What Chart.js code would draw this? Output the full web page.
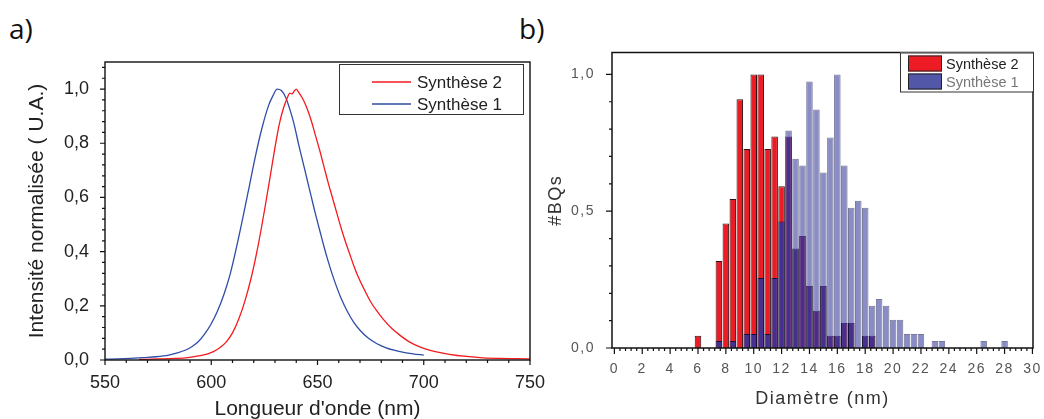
<!DOCTYPE html>
<html>
<head>
<meta charset="utf-8">
<script src="https://cdn.jsdelivr.net/npm/chart.js@4.4.0/dist/chart.umd.min.js"></script>
<style>
    html, body { margin: 0; padding: 0; background: #fff; overflow: hidden; width: 1044px; height: 419px; }
    .tag { position: absolute; font-family: "Open Sans", sans-serif; font-size: 28px; line-height: 28px; color: #111; }
    #tagA { left: 9px; top: 14px; }
    #tagB { left: 519px; top: 14px; }
    #specCanvas { position: absolute; left: 0; top: 0; }
    #histCanvas { position: absolute; left: 540px; top: 0; }
</style>
</head>
<body>
<div class="tag" id="tagA">a)</div>
<div class="tag" id="tagB">b)</div>
<canvas id="specCanvas" width="560" height="425"></canvas>
<canvas id="histCanvas" width="504" height="425"></canvas>

<script>
// ---- a) emission spectra ----
const waveS1 = [550, 556, 562, 568, 574, 580, 584, 588, 591, 594, 597, 600, 603, 606, 609, 612, 615, 618, 621, 624,
    627, 629, 631, 633, 635, 637, 639, 641, 643, 645, 647, 649, 651, 653, 655, 657, 659, 661, 664, 667,
    670, 674, 678, 682, 686, 690, 695, 700];
const intS1 = [0.003, 0.004, 0.006, 0.009, 0.012, 0.018, 0.026, 0.037, 0.05, 0.068, 0.097, 0.134, 0.182, 0.243, 0.32, 0.42, 0.53, 0.645, 0.76, 0.86,
    0.94, 0.975, 1.0, 0.995, 0.97, 0.925, 0.87, 0.8, 0.735, 0.67, 0.605, 0.54, 0.48, 0.42, 0.365, 0.315, 0.27, 0.23, 0.18, 0.14,
    0.11, 0.08, 0.06, 0.046, 0.036, 0.029, 0.023, 0.018];

const waveS2 = [566, 575, 583, 589, 594, 598, 601, 604, 607, 610, 613, 616, 619, 622, 625, 628, 630, 632, 634, 636,
    637, 638, 639, 640, 641, 643, 645, 647, 649, 651, 653, 655, 657, 659, 661, 663, 665, 667, 669, 672,
    675, 678, 681, 685, 689, 693, 697, 701, 706, 712, 720, 728, 736, 744, 750];
const intS2 = [0.002, 0.004, 0.006, 0.009, 0.015, 0.022, 0.031, 0.045, 0.066, 0.1, 0.152, 0.222, 0.31, 0.42, 0.55, 0.69, 0.785, 0.87, 0.93, 0.972,
    0.985, 0.982, 0.992, 1.0, 0.99, 0.965, 0.93, 0.885, 0.83, 0.775, 0.715, 0.655, 0.6, 0.545, 0.49, 0.44, 0.395, 0.35, 0.31, 0.26,
    0.215, 0.18, 0.15, 0.116, 0.09, 0.068, 0.052, 0.04, 0.03, 0.021, 0.013, 0.008, 0.006, 0.005, 0.004];

const specTicksX = [550, 600, 650, 700, 750];
const specTicksY = [0, 0.2, 0.4, 0.6, 0.8, 1.0];

// ---- b) size histogram (bins of 0.5 nm) ----
const diam = [6, 6.5, 7, 7.5, 8, 8.5, 9, 9.5, 10, 10.5, 11, 11.5, 12, 12.5, 13, 13.5, 14, 14.5, 15, 15.5,
    16, 16.5, 17, 17.5, 18, 18.5, 19, 19.5, 20, 20.5, 21, 21.5, 22, 22.5, 23, 23.5, 24, 24.5, 25, 25.5,
    26, 26.5, 27, 27.5, 28];
const countS2 = [0.045, 0, 0, 0.318, 0.455, 0.545, 0.909, 0.727, 1.0, 1.0, 0.727, 0.773, 0.591, 0.773, 0.364, 0.409, 0.227, 0.136, 0.227, 0.045,
    0.045, 0.091, 0.091, 0, 0.045, 0.045, 0, 0, 0, 0, 0, 0, 0, 0, 0, 0, 0, 0, 0, 0,
    0, 0, 0, 0, 0];
const countS1 = [0, 0, 0, 0.026, 0, 0.026, 0, 0.051, 0.051, 0.256, 0.051, 0.256, 0.462, 0.795, 0.692, 0.667, 0.974, 0.872, 0.641, 0.769,
    1.0, 0.667, 0.513, 0.538, 0.513, 0.154, 0.179, 0.154, 0.103, 0.103, 0.051, 0.051, 0.051, 0, 0.026, 0.026, 0, 0, 0, 0,
    0, 0.026, 0, 0, 0.026];

const histTicksX = [0, 2, 4, 6, 8, 10, 12, 14, 16, 18, 20, 22, 24, 26, 28, 30];
const histTicksY = [0, 0.5, 1.0];

const FONT = '"Liberation Sans", Arial, sans-serif';

function points(xs, ys) {
    return xs.map((x, i) => ({ x: x, y: ys[i] === 0 ? null : ys[i] }));
}
function comma(v) {
    return v.toFixed(1).replace('.', ',');
}

// frame + outer ticks, Origin style
const framePlugin = {
    id: 'frame',
    afterDraw(chart, args, o) {
        const { ctx, chartArea: a, scales } = chart;
        const x = scales.x, y = scales.y;
        ctx.save();
        ctx.strokeStyle = o.color;
        ctx.lineWidth = o.width;
        ctx.strokeRect(a.left, a.top, a.right - a.left, a.bottom - a.top);
        ctx.lineWidth = o.tickWidth;
        ctx.beginPath();
        x.ticks.forEach(t => {
            const px = x.getPixelForValue(t.value);
            ctx.moveTo(px, a.bottom); ctx.lineTo(px, a.bottom + o.major);
        });
        for (let k = Math.ceil(x.min / o.minorX); k * o.minorX <= x.max + 1e-9; k++) {
            const px = x.getPixelForValue(k * o.minorX);
            ctx.moveTo(px, a.bottom); ctx.lineTo(px, a.bottom + o.minor);
        }
        y.ticks.forEach(t => {
            const py = y.getPixelForValue(t.value);
            ctx.moveTo(a.left, py); ctx.lineTo(a.left - o.major, py);
        });
        for (let k = Math.ceil(y.min / o.minorY); k * o.minorY <= y.max + 1e-9; k++) {
            const py = y.getPixelForValue(k * o.minorY);
            ctx.moveTo(a.left, py); ctx.lineTo(a.left - o.minor, py);
        }
        ctx.stroke();
        ctx.restore();
    }
};

// boxed legend, anchored to the top right corner of the plot
const boxLegendPlugin = {
    id: 'boxLegend',
    afterDraw(chart, args, o) {
        const ctx = chart.ctx;
        const bx = chart.chartArea.right - o.right - o.w;
        const by = chart.chartArea.top + o.top;
        ctx.save();
        ctx.fillStyle = '#fff';
        ctx.fillRect(bx, by, o.w, o.h);
        ctx.strokeStyle = '#333';
        ctx.lineWidth = 1;
        ctx.strokeRect(bx + 0.5, by + 0.5, o.w, o.h);
        ctx.font = o.fontSize + 'px ' + FONT;
        ctx.textBaseline = 'middle';
        o.items.forEach((it, i) => {
            const ds = chart.data.datasets[it.ds];
            const cy = by + o.rowTop + i * o.rowGap;
            if (o.kind === 'line') {
                ctx.strokeStyle = ds.borderColor;
                ctx.lineWidth = 1.5;
                ctx.beginPath();
                ctx.moveTo(bx + o.symX, cy);
                ctx.lineTo(bx + o.symX + o.symW, cy);
                ctx.stroke();
            } else {
                ctx.fillStyle = it.swatch;
                ctx.fillRect(bx + o.symX, cy - o.symH / 2, o.symW, o.symH);
                ctx.strokeStyle = '#222';
                ctx.lineWidth = 1;
                ctx.strokeRect(bx + o.symX + 0.5, cy - o.symH / 2 + 0.5, o.symW - 1, o.symH - 1);
            }
            ctx.fillStyle = it.textColor || '#222';
            ctx.fillText(ds.label, bx + o.textX, cy + 1);
        });
        ctx.restore();
    }
};

// per-dataset compositing, so overlapping parts of the histograms turn dark
const blendPlugin = {
    id: 'blend',
    beforeDatasetDraw(chart, args) {
        chart.ctx.save();
        const op = chart.data.datasets[args.index].blend;
        if (op) chart.ctx.globalCompositeOperation = op;
    },
    afterDatasetDraw(chart) {
        chart.ctx.restore();
    }
};

// wider letter spacing on the axis texts of b)
const spacingPlugin = {
    id: 'spacing',
    beforeDraw(chart, args, o) { chart.ctx.letterSpacing = o.value; },
    beforeDatasetsDraw(chart) { chart.ctx.letterSpacing = '0px'; }
};

// Chart a
new Chart(document.getElementById('specCanvas'), {
    type: 'line',
    data: {
        datasets: [
            { label: 'Synthèse 2', data: points(waveS2, intS2), borderColor: '#f51a1e', borderWidth: 1.3,
              pointRadius: 0, cubicInterpolationMode: 'monotone' },
            { label: 'Synthèse 1', data: points(waveS1, intS1), borderColor: '#2f4ca6', borderWidth: 1.3,
              pointRadius: 0, cubicInterpolationMode: 'monotone' }
        ]
    },
    options: {
        responsive: false,
        animation: false,
        events: [],
        layout: { padding: { left: 0, right: 30, top: 62, bottom: 0 } },
        plugins: {
            legend: { display: false },
            tooltip: { enabled: false },
            frame: { color: '#111', width: 1.4, tickWidth: 1.2, major: 5, minor: 3, minorX: 10, minorY: 0.04 },
            boxLegend: { kind: 'line', right: 7, top: 2, w: 184, h: 50, rowTop: 18, rowGap: 22, symX: 33, symW: 39,
                         textX: 78, fontSize: 17, items: [{ ds: 0 }, { ds: 1 }] }
        },
        scales: {
            x: {
                type: 'linear', min: 550, max: 750,
                afterBuildTicks: s => { s.ticks = specTicksX.map(v => ({ value: v })); },
                afterFit: s => { s.height = 65; },
                grid: { display: false }, border: { display: false },
                ticks: { padding: 4, autoSkip: false, maxRotation: 0, color: '#222',
                         font: { family: FONT, size: 18 }, callback: v => String(v) },
                title: { display: true, text: "Longueur d'onde (nm)", color: '#222',
                         font: { family: FONT, size: 21 }, padding: { top: 0, bottom: 3 } }
            },
            y: {
                min: 0, max: 1.1,
                afterBuildTicks: s => { s.ticks = specTicksY.map(v => ({ value: v })); },
                afterFit: s => { s.width = 105; },
                grid: { display: false }, border: { display: false },
                ticks: { padding: 8, color: '#222', font: { family: FONT, size: 18 }, callback: v => comma(v) },
                title: { display: true, text: 'Intensité normalisée ( U.A.)', color: '#222',
                         font: { family: FONT, size: 21 }, padding: { top: 25, bottom: 0 } }
            }
        }
    },
    plugins: [framePlugin, boxLegendPlugin]
});

// Chart b
new Chart(document.getElementById('histCanvas'), {
    type: 'bar',
    data: {
        datasets: [
            { label: 'Synthèse 1', data: points(diam, countS1), backgroundColor: '#8a8cc6', borderColor: '#76779a',
              borderWidth: 1, blend: 'destination-over' },
            { label: 'Synthèse 1', data: points(diam, countS1), backgroundColor: '#462f8e', borderColor: '#150f35',
              borderWidth: 1, blend: 'source-atop' },
            { label: 'Synthèse 2', data: points(diam, countS2), backgroundColor: '#ed1c24', borderColor: '#2a1414',
              borderWidth: 1 }
        ]
    },
    options: {
        responsive: false,
        animation: false,
        events: [],
        grouped: false,
        barPercentage: 0.94,
        categoryPercentage: 1,
        layout: { padding: { left: 0, right: 11, top: 52.5, bottom: 0 } },
        plugins: {
            legend: { display: false },
            tooltip: { enabled: false },
            spacing: { value: '1.5px' },
            frame: { color: '#111', width: 1.5, tickWidth: 1.2, major: 6, minor: 3, minorX: 0.4, minorY: 0.1 },
            boxLegend: { kind: 'box', right: 0, top: 0, w: 133, h: 39, rowTop: 11, rowGap: 18, symX: 8, symW: 34, symH: 16,
                         textX: 46, fontSize: 14.5,
                         items: [{ ds: 2, swatch: '#ed1c24', textColor: '#222' },
                                 { ds: 0, swatch: '#5257a8', textColor: '#777' }] }
        },
        scales: {
            x: {
                type: 'linear', min: -0.17, max: 30.04, offset: false,
                afterBuildTicks: s => { s.ticks = histTicksX.map(v => ({ value: v })); },
                afterFit: s => { s.height = 77; s.paddingRight = 0; },
                grid: { display: false }, border: { display: false },
                ticks: { padding: 5, autoSkip: false, maxRotation: 0, color: '#555',
                         font: { family: FONT, size: 14 }, callback: v => String(v) },
                title: { display: true, text: 'Diamètre (nm)', color: '#333',
                         font: { family: FONT, size: 18 }, padding: { top: 0, bottom: 15 } }
            },
            y: {
                min: 0, max: 1.08,
                afterBuildTicks: s => { s.ticks = histTicksY.map(v => ({ value: v })); },
                afterFit: s => { s.width = 72; },
                grid: { display: false }, border: { display: false },
                ticks: { padding: 9, color: '#555', font: { family: FONT, size: 14 }, callback: v => comma(v) },
                title: { display: true, text: '#BQs', color: '#333',
                         font: { family: FONT, size: 18 }, padding: { top: 5, bottom: 0 } }
            }
        }
    },
    plugins: [spacingPlugin, blendPlugin, framePlugin, boxLegendPlugin]
});
</script>
</body>
</html>
